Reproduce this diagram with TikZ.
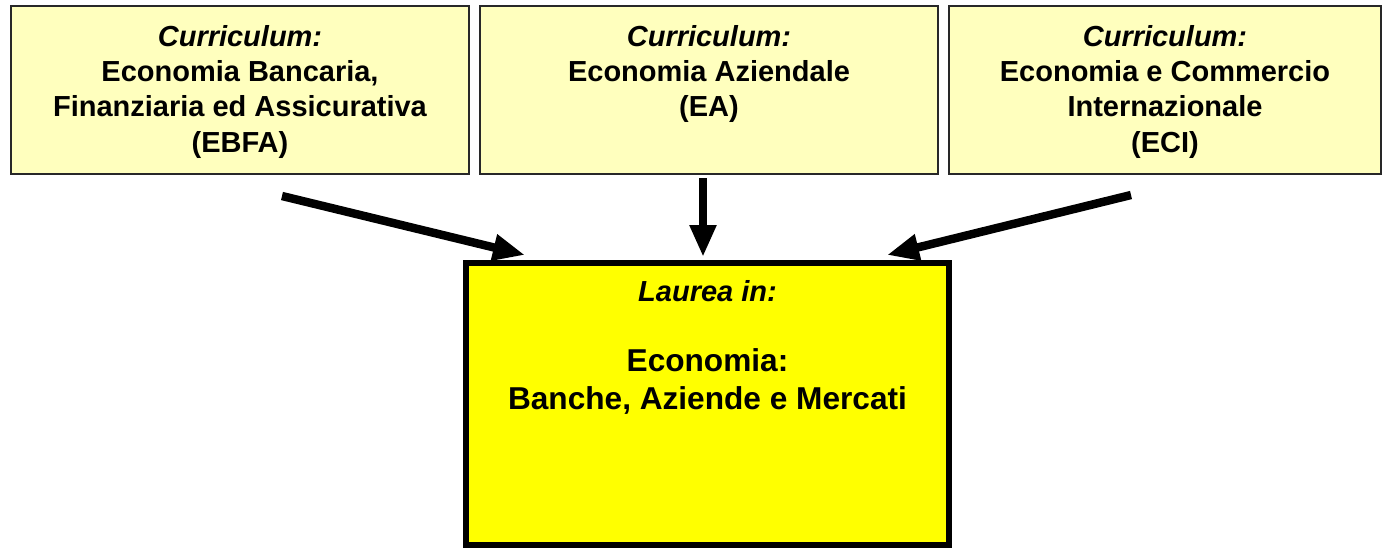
\documentclass[tikz,border=0pt]{standalone}
\usepackage{fontspec}
\setmainfont{Liberation Sans}
\usetikzlibrary{arrows.meta}
\definecolor{curyellow}{RGB}{255,255,190}
\definecolor{laureayellow}{RGB}{255,255,0}
\definecolor{boxgray}{RGB}{40,40,40}

\begin{document}
\begin{tikzpicture}[x=0.02cm, y=-0.02cm,
  curbox/.style={draw=boxgray, line width=1.1pt, fill=curyellow, inner sep=0pt,
    font=\fontsize{16.5}{20.2}\selectfont\bfseries},
  laureabox/.style={draw=black, line width=3.4pt, fill=laureayellow, inner sep=0pt,
    font=\fontsize{18}{21.6}\selectfont\bfseries},
  fatarrow/.style={line width=4.8pt, -{Triangle[length=0.64cm, width=0.5cm]}}]

\useasboundingbox (0,0) rectangle (1384,549);

\node [curbox] (ebfa) at (240,90)
  {\parbox[c][3.36cm][t]{9.16cm}{\centering\rule{0pt}{0.8cm}\textit{Curriculum:}\\
   Economia Bancaria,\\ Finanziaria ed Assicurativa\\ (EBFA)}};
\node [curbox] (ea) at (709,90)
  {\parbox[c][3.36cm][t]{9.16cm}{\centering\rule{0pt}{0.8cm}\textit{Curriculum:}\\
   Economia Aziendale\\ (EA)}};
\node [curbox] (eci) at (1165,90)
  {\parbox[c][3.36cm][t]{8.64cm}{\centering\rule{0pt}{0.8cm}\textit{Curriculum:}\\
   Economia e Commercio\\ Internazionale\\ (ECI)}};

\node [laureabox] (laurea) at (707.5,404)
  {\parbox[c][5.64cm][t]{9.66cm}{\centering\rule{0pt}{0.76cm}%
   {\fontsize{16.5}{19.9}\selectfont\itshape Laurea in:}\\[0.66cm]
   Economia:\\ Banche, Aziende e Mercati}};

\coordinate (ebfa-out) at (282,196);
\coordinate (ea-out) at (703,178);
\coordinate (eci-out) at (1131,195);
\coordinate (laurea-l) at (525,255);
\coordinate (laurea-m) at (703,257);
\coordinate (laurea-r) at (887,255);

\draw [fatarrow] (ebfa-out) -- (laurea-l);
\draw [fatarrow] (ea-out) -- (laurea-m);
\draw [fatarrow] (eci-out) -- (laurea-r);

\end{tikzpicture}
\end{document}
